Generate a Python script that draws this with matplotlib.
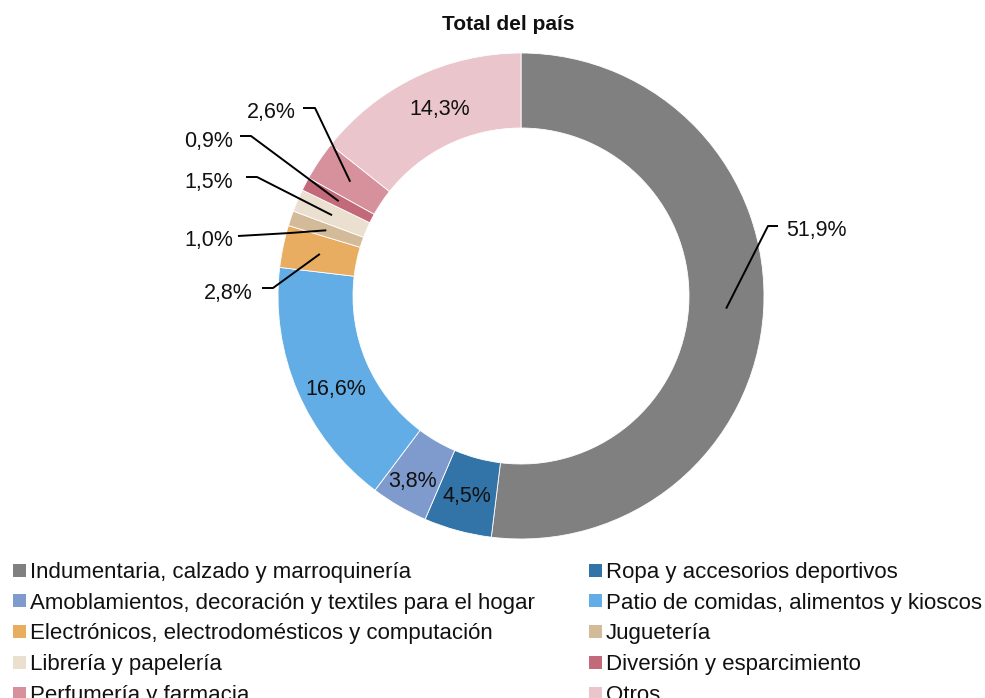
import numpy as np
import matplotlib
matplotlib.use("Agg")
import matplotlib.pyplot as plt
from matplotlib.patches import Rectangle

plt.rcParams['font.family'] = ['Liberation Sans', 'DejaVu Sans']

categories = [
    "Indumentaria, calzado y marroquinería",
    "Ropa y accesorios deportivos",
    "Amoblamientos, decoración y textiles para el hogar",
    "Patio de comidas, alimentos y kioscos",
    "Electrónicos, electrodomésticos y computación",
    "Juguetería",
    "Librería y papelería",
    "Diversión y esparcimiento",
    "Perfumería y farmacia",
    "Otros",
]
values = [51.9, 4.5, 3.8, 16.6, 2.8, 1.0, 1.5, 0.9, 2.6, 14.3]
labels = ["51,9%", "4,5%", "3,8%", "16,6%", "2,8%", "1,0%", "1,5%", "0,9%", "2,6%", "14,3%"]
colors = ["#808080", "#3274A8", "#7F9BCE", "#63ADE6", "#E8AD60",
          "#D3BA98", "#EBDFCF", "#C2697A", "#D6919D", "#EAC5CB"]

W, H = 985, 698
fig = plt.figure(figsize=(W / 100, H / 100), dpi=100)
ax = fig.add_axes([0, 0, 1, 1])
ax.set_xlim(0, W)
ax.set_ylim(0, H)
ax.set_aspect('equal')
ax.axis('off')

def P(x, y):
    return x, H - y

cx, cy = P(521, 296)
R_out, R_in = 243, 168
wedges, _ = ax.pie(values, colors=colors, startangle=90, counterclock=False,
                   radius=R_out, center=(cx, cy),
                   wedgeprops=dict(width=R_out - R_in, edgecolor='white', linewidth=0.6))
ax.set_xlim(0, W)
ax.set_ylim(0, H)

rmid = (R_out + R_in) / 2
fs = 15.5
# inside labels
inside = {1: (0, 0), 2: (-5, -5), 3: (4, -10), 9: (8, 4)}
# outside labels: index -> (elbow px, end px, text px, ha)
outside = {
    0: ((768, 226), (778, 226), (786, 228), 'left'),
    8: ((315, 108), (303, 108), (296, 110), 'right'),
    7: ((251, 136), (240, 136), (233, 139), 'right'),
    6: ((257, 177), (246, 177), (233, 180), 'right'),
    5: ((290, 233), (238, 236), (233, 238), 'right'),
    4: ((273, 288), (262, 288), (253, 291), 'right'),
}
for i, w in enumerate(wedges):
    ang = np.deg2rad((w.theta1 + w.theta2) / 2)
    mx, my = cx + rmid * np.cos(ang), cy + rmid * np.sin(ang)
    if i in inside:
        dx, dy = inside[i]
        ax.text(mx + dx, my + dy, labels[i], ha='center', va='center_baseline', fontsize=fs, color='#111111')
    else:
        (ex, ey), (fx, fy), (tx, ty), ha = outside[i]
        ax.plot([mx, ex, fx], [my, H - ey, H - fy], color='black', lw=1.4, solid_capstyle='butt')
        ax.text(tx, H - ty, labels[i], ha=ha, va='center_baseline', fontsize=fs, color='#111111')

fig.text(508 / W, 1 - 23 / H, "Total del país", ha='center', va='center_baseline',
         fontsize=15, fontweight='bold', color='#111111')

# legend (row-major, two columns)
col_x = [13, 589]
row_y = [570, 600.75, 631.5, 662, 693]
for i, (cat, col) in enumerate(zip(categories, colors)):
    r, c = divmod(i, 2)
    x0, y0 = col_x[c], row_y[r]
    ax.add_patch(Rectangle((x0, H - y0 - 6.5), 13, 13, facecolor=col, edgecolor='none'))
    ax.text(x0 + 17, H - y0 - 7.8, cat, ha='left', va='baseline', fontsize=16, color='#111111')

fig.savefig("out.png", dpi=100)
